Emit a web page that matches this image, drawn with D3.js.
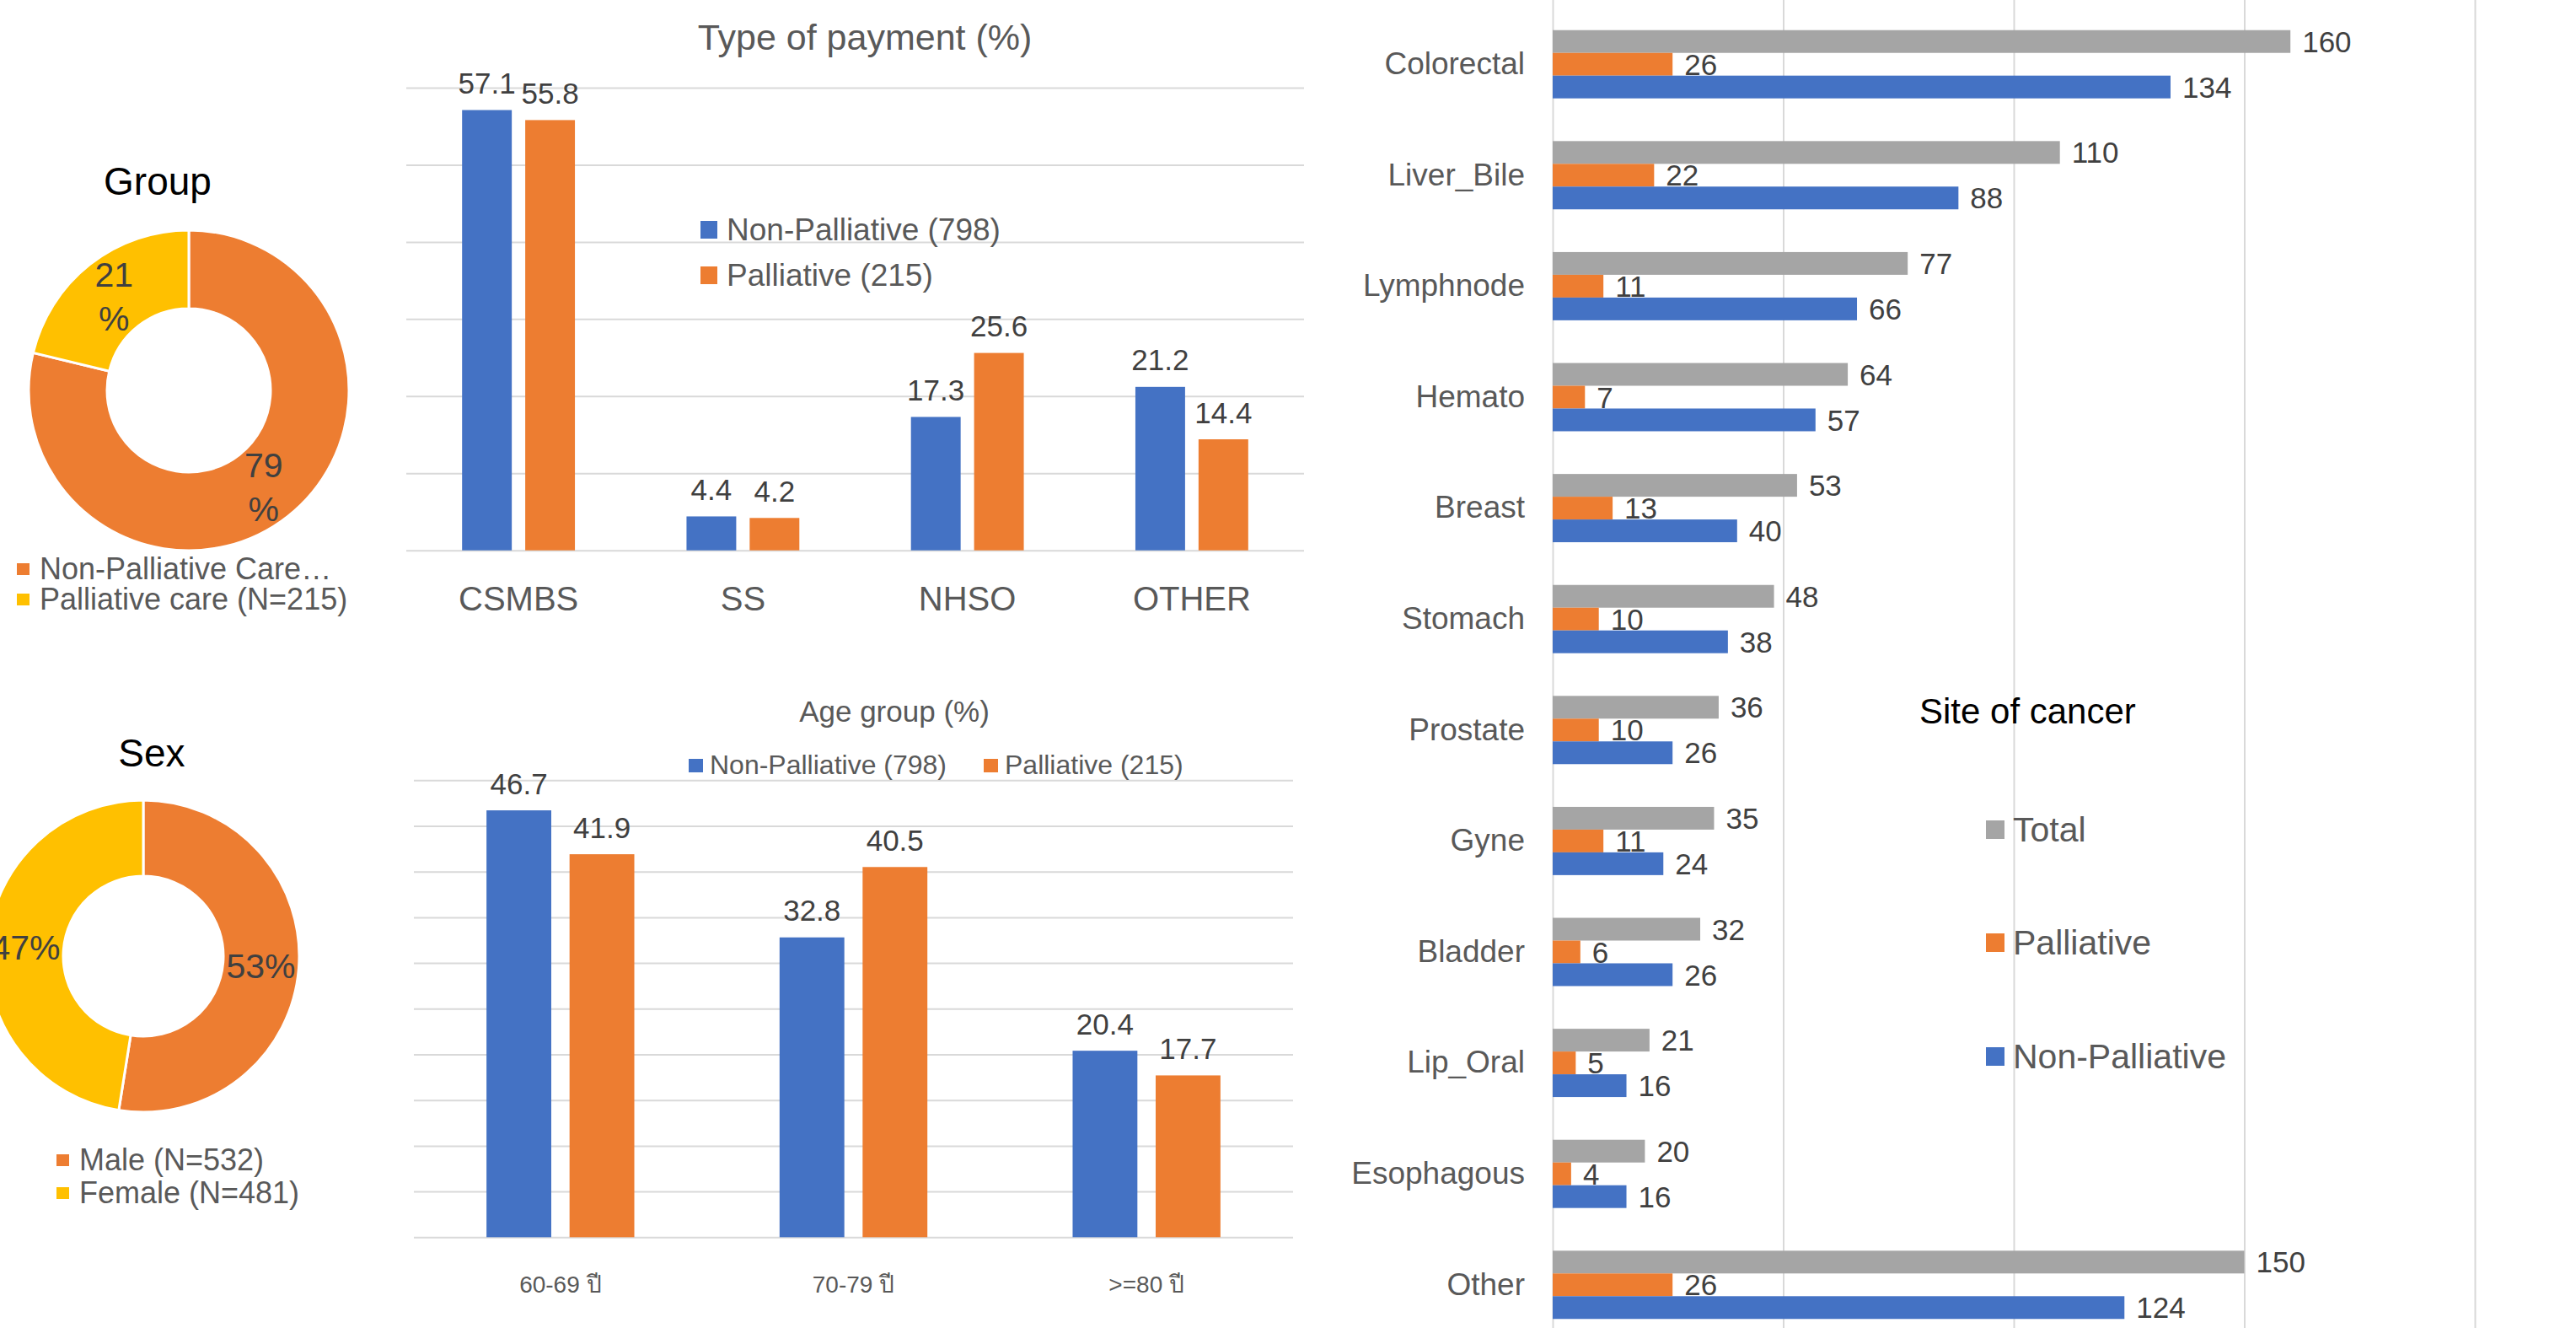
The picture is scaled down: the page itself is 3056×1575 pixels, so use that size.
<!DOCTYPE html>
<html>
<head>
<meta charset="utf-8">
<script src="https://cdn.jsdelivr.net/npm/d3@7"></script>
<style>
body { margin: 0; background: #fff; }
svg { display: block; }
text { font-family: "Liberation Sans", Arial, "Noto Sans", sans-serif; }
</style>
</head>
<body>
<svg id="chart" width="3056" height="1575"></svg>
<script>
// ---- data ----
const groupLabels = ["Non-Palliative Care…", "Palliative care (N=215)"];
const groupValues = [798, 215];
const groupPct = [["79", "%"], ["21", "%"]];

const sexLabels = ["Male (N=532)", "Female (N=481)"];
const sexValues = [532, 481];
const sexPct = ["53%", "47%"];

const seriesNames = ["Non-Palliative (798)", "Palliative (215)"];

const payCats = ["CSMBS", "SS", "NHSO", "OTHER"];
const payNonPal = [57.1, 4.4, 17.3, 21.2];
const payPal = [55.8, 4.2, 25.6, 14.4];

const ageCats = ["60-69 ปี", "70-79 ปี", ">=80 ปี"];
const ageNonPal = [46.7, 32.8, 20.4];
const agePal = [41.9, 40.5, 17.7];

const siteCats = ["Colorectal", "Liver_Bile", "Lymphnode", "Hemato", "Breast", "Stomach",
    "Prostate", "Gyne", "Bladder", "Lip_Oral", "Esophagous", "Other"];
const siteTotal = [160, 110, 77, 64, 53, 48, 36, 35, 32, 21, 20, 150];
const sitePal = [26, 22, 11, 7, 13, 10, 10, 11, 6, 5, 4, 26];
const siteNonPal = [134, 88, 66, 57, 40, 38, 26, 24, 26, 16, 16, 124];
const siteSeries = ["Total", "Palliative", "Non-Palliative"];

const BLUE = "#4472C4", ORANGE = "#ED7D31", YELLOW = "#FFC000", GRAY = "#A5A5A5";
const GRID = "#D9D9D9", AXIS_TXT = "#595959", LBL_TXT = "#404040";

const svg = d3.select("#chart");
svg.append("rect").attr("width", 3056).attr("height", 1575).attr("fill", "#fff");

// ---- donuts ----
function drawDonut(opt) {
    const g = svg.append("g").attr("transform", `translate(${opt.cx},${opt.cy})`);
    const arcs = d3.pie().sort(null)(opt.values);
    const arc = d3.arc().innerRadius(opt.rIn).outerRadius(opt.rOut);

    g.selectAll("path")
        .data(arcs)
        .join("path")
        .attr("d", arc)
        .attr("fill", (d, i) => opt.colors[i])
        .attr("stroke", "#fff")
        .attr("stroke-width", 3);

    arcs.forEach((d, i) => {
        const [x, y] = arc.centroid(d);
        const lines = Array.isArray(opt.pct[i]) ? opt.pct[i] : [opt.pct[i]];
        const t = g.append("text")
            .attr("text-anchor", "middle")
            .attr("font-size", "41px")
            .attr("fill", LBL_TXT);
        if (lines.length === 1) {
            t.attr("x", x).attr("y", y + 15).text(lines[0]);
        } else {
            lines.forEach((s, j) => {
                t.append("tspan").attr("x", x).attr("y", y - 10 + j * 52).text(s);
            });
        }
    });

    svg.append("text")
        .attr("x", opt.titleX).attr("y", opt.titleY)
        .attr("text-anchor", "middle")
        .attr("font-size", "46px")
        .attr("fill", "#000")
        .text(opt.title);

    const leg = svg.append("g");
    opt.labels.forEach((s, i) => {
        leg.append("rect")
            .attr("x", opt.legX).attr("y", opt.legY[i] - 19)
            .attr("width", 15).attr("height", 14)
            .attr("fill", opt.colors[i]);
        leg.append("text")
            .attr("x", opt.legX + 27).attr("y", opt.legY[i])
            .attr("font-size", "36px")
            .attr("fill", AXIS_TXT)
            .text(s);
    });
}

drawDonut({
    cx: 224, cy: 463, rOut: 190, rIn: 97,
    values: groupValues, colors: [ORANGE, YELLOW], pct: groupPct,
    title: "Group", titleX: 187, titleY: 231,
    labels: groupLabels, legX: 20, legY: [687, 723]
});

drawDonut({
    cx: 170, cy: 1134, rOut: 185, rIn: 95,
    values: sexValues, colors: [ORANGE, YELLOW], pct: sexPct,
    title: "Sex", titleX: 180, titleY: 909,
    labels: sexLabels, legX: 67, legY: [1388, 1427]
});

// ---- grouped column charts ----
function drawColumns(opt) {
    const g = svg.append("g");
    const x0 = d3.scaleBand()
        .domain(opt.cats)
        .range([opt.left, opt.right])
        .paddingInner(opt.padOuterFrac * 2)
        .paddingOuter(opt.padOuterFrac);
    const x1 = d3.scaleBand()
        .domain([0, 1])
        .range([0, x0.bandwidth()])
        .paddingInner(opt.gapFrac);
    const y = d3.scaleLinear()
        .domain([0, opt.max])
        .range([opt.bottom, opt.top]);

    // grid
    g.append("g")
        .attr("transform", `translate(${opt.left},0)`)
        .call(d3.axisLeft(y).tickValues(d3.range(0, opt.max + 0.001, opt.step))
            .tickSize(-(opt.right - opt.left)).tickFormat(""))
        .call(a => a.select(".domain").remove())
        .selectAll("line")
        .attr("stroke", GRID)
        .attr("stroke-width", 2);

    const rows = opt.cats.map((c, i) => ({ cat: c, vals: [opt.s1[i], opt.s2[i]] }));
    const grp = g.selectAll("g.cat")
        .data(rows)
        .join("g")
        .attr("class", "cat")
        .attr("transform", d => `translate(${x0(d.cat)},0)`);

    grp.selectAll("rect")
        .data(d => d.vals.map((v, k) => ({ v, k })))
        .join("rect")
        .attr("x", d => x1(d.k))
        .attr("y", d => y(d.v))
        .attr("width", x1.bandwidth())
        .attr("height", d => y(0) - y(d.v))
        .attr("fill", d => d.k === 0 ? BLUE : ORANGE);

    grp.selectAll("text.val")
        .data(d => d.vals.map((v, k) => ({ v, k })))
        .join("text")
        .attr("class", "val")
        .attr("x", d => x1(d.k) + x1.bandwidth() / 2)
        .attr("y", d => y(d.v) - 19.5)
        .attr("text-anchor", "middle")
        .attr("font-size", "35px")
        .attr("fill", LBL_TXT)
        .text(d => d.v.toFixed(1));

    // category axis
    g.append("g")
        .attr("transform", `translate(0,${opt.bottom})`)
        .call(d3.axisBottom(x0).tickSize(0))
        .call(a => a.select(".domain").remove())
        .selectAll("text")
        .attr("y", opt.catDy)
        .attr("dy", 0)
        .attr("font-size", opt.catSize)
        .attr("font-family", "'Liberation Sans', Arial, sans-serif")
        .attr("fill", AXIS_TXT);

    svg.append("text")
        .attr("x", opt.titleX).attr("y", opt.titleY)
        .attr("text-anchor", "middle")
        .attr("font-size", opt.titleSize)
        .attr("fill", AXIS_TXT)
        .text(opt.title);

    opt.legend.forEach((p, i) => {
        svg.append("rect")
            .attr("x", p.x).attr("y", p.y - p.s - 2)
            .attr("width", p.w).attr("height", p.s)
            .attr("fill", i === 0 ? BLUE : ORANGE);
        svg.append("text")
            .attr("x", p.x + p.w + p.gap).attr("y", p.y)
            .attr("font-size", opt.legSize)
            .attr("fill", AXIS_TXT)
            .text(seriesNames[i]);
    });
}

drawColumns({
    cats: payCats, s1: payNonPal, s2: payPal,
    left: 482, right: 1547, top: 104, bottom: 652.7, max: 60, step: 10,
    padOuterFrac: 0.2486, gapFrac: 0.213,
    catDy: 71.3, catSize: "40px",
    title: "Type of payment (%)", titleX: 1026, titleY: 59, titleSize: "43px",
    legSize: "37px",
    legend: [{ x: 831, y: 285, w: 20, s: 21, gap: 11 }, { x: 831, y: 339, w: 20, s: 21, gap: 11 }]
});

drawColumns({
    cats: ageCats, s1: ageNonPal, s2: agePal,
    left: 491, right: 1534, top: 925.3, bottom: 1467.3, max: 50, step: 5,
    padOuterFrac: 0.2478, gapFrac: 0.22,
    catDy: 65.4, catSize: "28px",
    title: "Age group (%)", titleX: 1061, titleY: 856, titleSize: "35px",
    legSize: "32px",
    legend: [{ x: 817, y: 918, w: 17, s: 16, gap: 8 }, { x: 1167, y: 918, w: 17, s: 16, gap: 8 }]
});

// ---- site of cancer (horizontal bars) ----
(function () {
    const g = svg.append("g");
    const x = d3.scaleLinear().domain([0, 200]).range([1842, 2936]);
    const y0 = d3.scaleBand()
        .domain(siteCats)
        .range([10.4, 1589.6])
        .paddingInner(0.385)
        .paddingOuter(0.1925);
    const y1 = d3.scaleBand()
        .domain(siteSeries)
        .range([0, y0.bandwidth()]);
    const colors = { "Total": GRAY, "Palliative": ORANGE, "Non-Palliative": BLUE };

    g.append("g")
        .call(d3.axisTop(x).tickValues([0, 50, 100, 150, 200]).tickSize(-1575).tickFormat(""))
        .call(a => a.select(".domain").remove())
        .selectAll("line")
        .attr("stroke", GRID)
        .attr("stroke-width", 2);

    const rows = siteCats.map((c, i) => ({
        cat: c,
        vals: [siteTotal[i], sitePal[i], siteNonPal[i]].map((v, k) => ({ v, s: siteSeries[k] }))
    }));

    const grp = g.selectAll("g.site")
        .data(rows)
        .join("g")
        .attr("class", "site")
        .attr("transform", d => `translate(0,${y0(d.cat)})`);

    grp.selectAll("rect")
        .data(d => d.vals)
        .join("rect")
        .attr("x", x(0))
        .attr("y", d => y1(d.s))
        .attr("width", d => x(d.v) - x(0))
        .attr("height", y1.bandwidth())
        .attr("fill", d => colors[d.s]);

    grp.selectAll("text")
        .data(d => d.vals)
        .join("text")
        .attr("x", d => x(d.v) + 14)
        .attr("y", d => y1(d.s) + y1.bandwidth() / 2)
        .attr("dy", "0.36em")
        .attr("font-size", "35px")
        .attr("fill", LBL_TXT)
        .text(d => d.v);

    g.append("g")
        .attr("transform", `translate(${x(0)},0)`)
        .call(d3.axisLeft(y0).tickSize(0).tickPadding(33))
        .call(a => a.select(".domain").remove())
        .selectAll("text")
        .attr("font-size", "37px")
        .attr("font-family", "'Liberation Sans', Arial, sans-serif")
        .attr("fill", AXIS_TXT);

    svg.append("text")
        .attr("x", 2277).attr("y", 858)
        .attr("font-size", "42px")
        .attr("fill", "#000")
        .text("Site of cancer");

    const legY = [998, 1132, 1267];
    siteSeries.forEach((s, i) => {
        svg.append("rect")
            .attr("x", 2356).attr("y", legY[i] - 25)
            .attr("width", 22).attr("height", 22)
            .attr("fill", colors[s]);
        svg.append("text")
            .attr("x", 2388).attr("y", legY[i])
            .attr("font-size", "41px")
            .attr("fill", AXIS_TXT)
            .text(s);
    });
})();
</script>
</body>
</html>
